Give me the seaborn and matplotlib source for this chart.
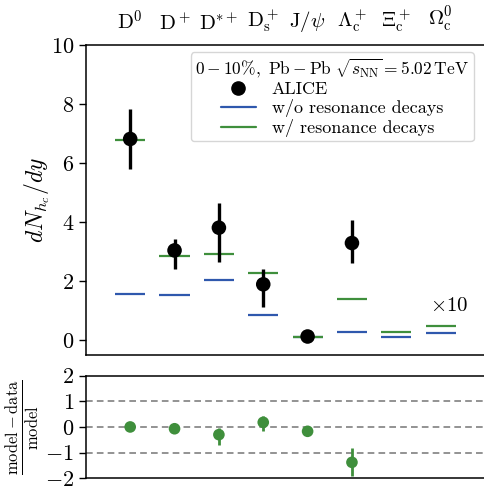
import numpy as np
import pandas as pd
import matplotlib
matplotlib.use("Agg")
import matplotlib.pyplot as plt
import seaborn as sns
from matplotlib.lines import Line2D

# ---- data ----
hadrons = [r"$\mathrm{D}^0$", r"$\mathrm{D}^+$", r"$\mathrm{D}^{*+}$", r"$\mathrm{D}_\mathrm{s}^+$",
           r"$\mathrm{J}/\psi$", r"$\Lambda_\mathrm{c}^+$", r"$\Xi_\mathrm{c}^+$", r"$\Omega_\mathrm{c}^0$"]
alice_idx = [0, 1, 2, 3, 4, 5]
alice_val = [6.82, 3.04, 3.81, 1.89, 0.12, 3.29]
alice_err_lo = [1.02, 0.62, 1.18, 0.78, 0.03, 0.68]
alice_err_hi = [1.02, 0.38, 0.84, 0.51, 0.03, 0.77]
model_wo = [1.56, 1.52, 2.04, 0.86, 0.10, 0.27, 0.10, 0.25]
model_w = [6.80, 2.86, 2.93, 2.29, 0.10, 1.38, 0.28, 0.48]
ratio_val = [0.00, -0.07, -0.30, 0.18, -0.17, -1.38]
ratio_err_lo = [0.0, 0.0, 0.41, 0.35, 0.0, 0.52]
ratio_err_hi = [0.0, 0.0, 0.26, 0.26, 0.0, 0.56]

BLUE = "#2f58ad"
GREEN = "#3f8f3c"

sns.set_theme(style="ticks")
plt.rcParams.update({
    "font.family": "serif",
    "font.serif": ["cmr10", "DejaVu Serif"],
    "mathtext.fontset": "cm",
    "axes.formatter.use_mathtext": True,
    "axes.unicode_minus": False,
    "axes.edgecolor": "black",
    "axes.linewidth": 1.1,
    "xtick.color": "black",
    "ytick.color": "black",
    "axes.labelcolor": "black",
    "text.color": "black",
})

fig = plt.figure(figsize=(4.85, 4.86), dpi=100)
ax = fig.add_axes([0.177, 0.270, 0.823, 0.637])
axr = fig.add_axes([0.177, 0.016, 0.823, 0.211])

df = pd.DataFrame({"x": alice_idx, "y": alice_val})
x_all = np.arange(len(hadrons))

# model lines
hw = 0.34
ax.errorbar(x_all, model_wo, xerr=hw, yerr=0.03, fmt="none", ecolor=BLUE, elinewidth=1.6, capsize=0)
ax.errorbar(x_all, model_w, xerr=hw, yerr=0.03, fmt="none", ecolor=GREEN, elinewidth=1.6, capsize=0)
# data
ax.errorbar(alice_idx, alice_val, yerr=[alice_err_lo, alice_err_hi], fmt="none", ecolor="black",
            elinewidth=2.4, capsize=0, zorder=3)
sns.scatterplot(data=df, x="x", y="y", ax=ax, color="black", s=110, edgecolor="none", zorder=4, legend=False)

ax.text(7.2, 1.15, r"$\times 10$", fontsize=15, ha="center", va="center")

ax.set_xlim(-1, 8.0)
ax.set_ylim(-0.5, 10)
ax.set_yticks([0, 2, 4, 6, 8, 10])
ax.set_xticks(x_all)
ax.set_xticklabels(hadrons)
ax.tick_params(axis="x", length=0, labelbottom=False, labeltop=True, labelsize=15, pad=8)
ax.tick_params(axis="y", length=5, width=1.0, direction="out", labelsize=16)
ax.spines["right"].set_visible(False)
ax.set_xlabel("")
ax.set_ylabel(r"$dN_{h_c}/dy$", fontsize=17, labelpad=-1)

handles = [Line2D([], [], marker="o", color="black", linestyle="none", markersize=9.5),
           Line2D([], [], color=BLUE, lw=1.6),
           Line2D([], [], color=GREEN, lw=1.6)]
leg = ax.legend(handles, ["ALICE", "w/o resonance decays", "w/ resonance decays"],
                title=r"$0-10\%,\ \mathrm{Pb-Pb}\ \sqrt{s_{\mathrm{NN}}}=5.02\,\mathrm{TeV}$",
                loc="upper right", bbox_to_anchor=(0.985, 0.995), fontsize=13, title_fontsize=12.5,
                frameon=True, fancybox=True, edgecolor="#cccccc", borderpad=0.25,
                labelspacing=0.1, handlelength=1.9, handletextpad=0.9, borderaxespad=0.3)
leg.get_frame().set_linewidth(1.0)

# ratio panel
for yv in [-1, 0, 1]:
    axr.axhline(yv, color="gray", linestyle=(0, (4, 2.5)), lw=1.2, zorder=1)
dfr = pd.DataFrame({"x": alice_idx, "y": ratio_val})
axr.errorbar(alice_idx, ratio_val, yerr=[ratio_err_lo, ratio_err_hi], fmt="none", ecolor=GREEN,
             elinewidth=2.0, capsize=0, zorder=3)
sns.scatterplot(data=dfr, x="x", y="y", ax=axr, color=GREEN, s=70, edgecolor="none", zorder=4, legend=False)
axr.set_xlim(-1, 8.0)
axr.set_ylim(-2, 2)
axr.set_yticks([-2, -1, 0, 1, 2])
axr.set_xticks([])
axr.tick_params(axis="y", length=5, width=1.0, direction="out", labelsize=16)
axr.spines["right"].set_visible(False)
axr.set_xlabel("")
axr.set_ylabel(r"$\frac{\mathrm{model}-\mathrm{data}}{\mathrm{model}}$", fontsize=17, labelpad=2)

fig.savefig("out.png", dpi=100)
